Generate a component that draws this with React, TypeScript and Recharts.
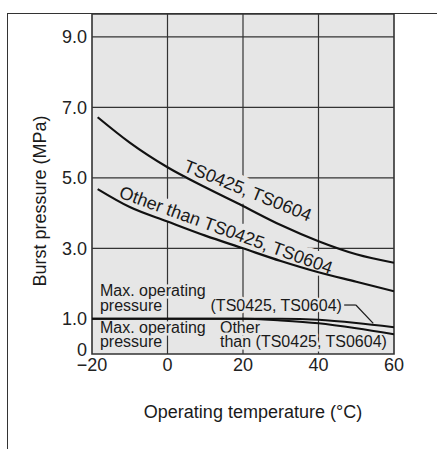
import React from 'react';
import { LineChart, Line, XAxis, YAxis, CartesianGrid, ReferenceArea, ReferenceDot, ReferenceLine, Label } from 'recharts';

// burst pressure curves (MPa) vs operating temperature (°C)
const burstTemps = [-18.5, -10, 0, 10, 20, 30, 40, 50, 60];
const burstTS = [6.72, 6.0, 5.3, 4.73, 4.2, 3.66, 3.2, 2.83, 2.59];
const burstOther = [4.68, 4.17, 3.76, 3.36, 3.0, 2.64, 2.32, 2.05, 1.78];

// max. operating pressure (MPa)
const maxTemps = [-20, 0, 20, 30, 40, 50, 60];
const maxTS = [1.0, 1.0, 1.0, 1.0, 0.97, 0.88, 0.76];
const maxOther = [1.0, 1.0, 1.0, 0.95, 0.87, 0.73, 0.56];

const xTicks = [-20, 0, 20, 40, 60];
const yTicks = [0, 1, 3, 5, 7, 9];
const gridX = [0, 20, 40];
const gridY = [3, 5, 7, 9];

const Y_TOP = 9.65;
const PLOT_BG = '#e6e6e6';
const INK = '#1a1a1a';

const toRows = (temps: number[], vals: number[]) => temps.map((t, i) => ({ t, p: vals[i] }));

// note text with a background halo so the grid breaks around it, like the print
function Note({ viewBox, lines, tilt = 0, size = 16, lead = 14, halo = 5 }: any) {
  const { x, y } = viewBox;
  return (
    <text
      x={x}
      y={y}
      fontSize={size}
      fill={INK}
      stroke={PLOT_BG}
      strokeWidth={halo}
      strokeLinejoin="round"
      paintOrder="stroke"
      transform={tilt ? `rotate(${tilt} ${x} ${y})` : undefined}
    >
      {lines.map((l: string, i: number) => (
        <tspan key={i} x={x} dy={i === 0 ? 0 : lead}>{l}</tspan>
      ))}
    </text>
  );
}

function XTitle({ viewBox }: any) {
  const { x, y, width } = viewBox;
  return (
    <text x={x + width / 2 + 10} y={y + 64} textAnchor="middle" fontSize={18} fill={INK}>
      Operating temperature (°C)
    </text>
  );
}

function YTitle({ viewBox }: any) {
  const { x, y, height } = viewBox;
  const cx = x + 14;
  const cy = y + height / 2 + 17;
  return (
    <text x={cx} y={cy} textAnchor="middle" fontSize={18} fill={INK} transform={`rotate(-90 ${cx} ${cy})`}>
      Burst pressure (MPa)
    </text>
  );
}

function YTick({ x, y, payload }: any) {
  const v = payload.value;
  return (
    <text x={x} y={v === 0 ? y - 4 : y} dy="0.355em" textAnchor="end" fontSize={18} fill="#222">
      {v === 0 ? '0' : v.toFixed(1)}
    </text>
  );
}

const fmtX = (v: number) => (v < 0 ? `\u2212${Math.abs(v)}` : String(v));

export default function App() {
  const lineProps: any = { dataKey: 'p', type: 'monotone', stroke: '#111', dot: false, isAnimationActive: false, zIndex: 3000 };
  return (
    <div style={{ position: 'absolute', left: 0, top: 0, width: 437, height: 449, background: '#fff', fontFamily: '"Liberation Sans", Arial, sans-serif' }}>
      <div style={{ position: 'absolute', left: 7, top: 13, width: 430, height: 436, borderTop: '1.5px solid #333', borderLeft: '1.5px solid #333' }} />
      <div style={{ position: 'absolute', left: 0, top: 0 }}>
        <LineChart width={437} height={449} margin={{ top: 14, right: 43, bottom: 65, left: 32 }}>
          <CartesianGrid
            fill={PLOT_BG}
            stroke="#333"
            strokeWidth={1.2}
            horizontalValues={gridY}
            verticalValues={gridX}
          />
          <XAxis
            type="number"
            dataKey="t"
            domain={[-20, 60]}
            ticks={xTicks}
            allowDataOverflow
            axisLine={false}
            tickLine={false}
            tickSize={0}
            tickMargin={4}
            height={30}
            tick={{ fontSize: 18, fill: '#222' }}
            tickFormatter={fmtX}
            label={<Label content={<XTitle />} />}
          />
          <YAxis
            type="number"
            dataKey="p"
            domain={[0, Y_TOP]}
            ticks={yTicks}
            allowDataOverflow
            axisLine={false}
            tickLine={false}
            tickSize={0}
            tickMargin={5}
            width={60}
            tick={<YTick />}
            label={<Label content={<YTitle />} />}
          />
          <ReferenceArea x1={-20} x2={60} y1={0} y2={Y_TOP} fill="none" stroke="#333" strokeWidth={1.6} ifOverflow="visible" />

          <ReferenceDot x={4} y={5.2} r={0} fill="none" stroke="none" label={<Note lines={['TS0425, TS0604']} tilt={22} size={18} halo={12} />} />
          <ReferenceDot x={-13.1} y={4.45} r={0} fill="none" stroke="none" label={<Note lines={['Other than TS0425, TS0604']} tilt={20} size={18} halo={12} />} />
          <ReferenceDot x={-17.9} y={1.65} r={0} fill="none" stroke="none" label={<Note lines={['Max. operating', 'pressure']} lead={15} />} />
          <ReferenceDot x={11.4} y={1.22} r={0} fill="none" stroke="none" label={<Note lines={['(TS0425, TS0604)']} />} />
          <ReferenceDot x={-17.9} y={0.6} r={0} fill="none" stroke="none" label={<Note lines={['Max. operating', 'pressure']} lead={14} />} />
          <ReferenceDot x={13.9} y={0.6} r={0} fill="none" stroke="none" label={<Note lines={['Other', 'than (TS0425, TS0604)']} lead={14} />} />

          <ReferenceLine segment={[{ x: 46.8, y: 1.39 }, { x: 49.9, y: 1.39 }]} stroke={INK} strokeWidth={1.2} />
          <ReferenceLine segment={[{ x: 49.9, y: 1.39 }, { x: 54.5, y: 0.87 }]} stroke={INK} strokeWidth={1.2} />

          <Line {...lineProps} data={toRows(burstTemps, burstTS)} strokeWidth={2.2} />
          <Line {...lineProps} data={toRows(burstTemps, burstOther)} strokeWidth={2.2} />
          <Line {...lineProps} data={toRows(maxTemps, maxTS)} strokeWidth={2} />
          <Line {...lineProps} data={toRows(maxTemps, maxOther)} strokeWidth={2} />
        </LineChart>
      </div>
    </div>
  );
}
